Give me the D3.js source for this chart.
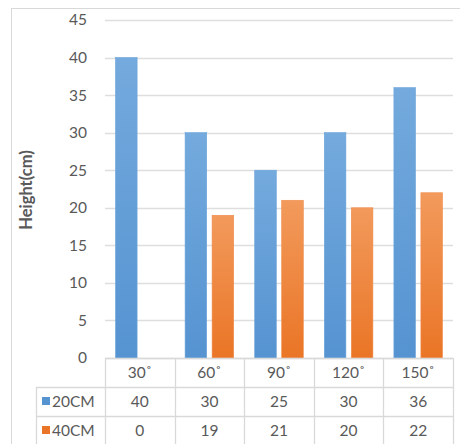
<!DOCTYPE html>
<html>
<head>
<meta charset="utf-8">
<script src="https://cdn.jsdelivr.net/npm/d3@7"></script>
<style>
  html, body { margin: 0; padding: 0; background: #fff; }
  svg { display: block; font-family: Lato, "Liberation Sans", sans-serif; }
</style>
</head>
<body>
<svg id="chart" width="460" height="444"></svg>
<script>
// Angles and heights for the two spacings
const categories = ["30˚", "60˚", "90˚", "120˚", "150˚"];
const seriesNames = ["20CM", "40CM"];
const values20 = [40, 30, 25, 30, 36];
const values40 = [0, 19, 21, 20, 22];
const yTicks = [0, 5, 10, 15, 20, 25, 30, 35, 40, 45];
const yLabel = "Height(cm)";

const seriesValues = [values20, values40];
const colors = [
  { top: "#74aadd", bottom: "#5593d1", edge: "#6aa3da" },
  { top: "#f29a5c", bottom: "#ea7526", edge: "#f08b4a" }
];

const svg = d3.select("#chart");
const textColor = "#595959";
const gridColor = "#dedede";
const fontSize = "15.5px";

const plot = { left: 105, right: 453, top: 20, bottom: 358 };
const rowH = 29;
const legendLeft = 36;

// Outer frame
svg.append("rect")
  .attr("x", 11.5).attr("y", 8.5)
  .attr("width", 460).attr("height", 460)
  .attr("fill", "none").attr("stroke", "#d9d9d9");

// Gradients for bars
const defs = svg.append("defs");
colors.forEach((c, i) => {
  const g = defs.append("linearGradient")
    .attr("id", "grad" + i).attr("x1", 0).attr("y1", 0).attr("x2", 0).attr("y2", 1);
  g.append("stop").attr("offset", "0%").attr("stop-color", c.top);
  g.append("stop").attr("offset", "100%").attr("stop-color", c.bottom);
});

const x0 = d3.scaleBand().domain(categories).range([plot.left, plot.right]).padding(0);
const x1 = d3.scaleBand().domain(seriesNames)
  .range([10.5, x0.bandwidth() - 10.5]).paddingInner(0.2).paddingOuter(0);
const y = d3.scaleLinear().domain([0, 45]).range([plot.bottom, plot.top]);

// Gridlines
svg.append("g").selectAll("line").data(yTicks).join("line")
  .attr("x1", plot.left).attr("x2", plot.right)
  .attr("y1", d => Math.round(y(d)) + 0.5).attr("y2", d => Math.round(y(d)) + 0.5)
  .attr("stroke", gridColor).attr("stroke-width", 1.3);

// Y axis tick labels
const yAxis = d3.axisLeft(y).tickValues(yTicks).tickSize(0).tickPadding(0);
const yg = svg.append("g").attr("transform", `translate(${plot.left - 18},0)`).call(yAxis);
yg.select(".domain").remove();
yg.selectAll("text")
  .attr("fill", textColor).style("font-size", fontSize)
  .style("font-family", "Lato, 'Liberation Sans', sans-serif");

// Y axis title
svg.append("text")
  .attr("transform", `translate(32,190) rotate(-90)`)
  .attr("text-anchor", "middle")
  .attr("fill", textColor).attr("font-weight", "bold").style("font-size", "16.5px")
  .text(yLabel);

// Bars
const groups = svg.append("g").selectAll("g").data(categories).join("g")
  .attr("transform", d => `translate(${x0(d)},0)`);
groups.selectAll("rect")
  .data((d, i) => seriesNames.map((s, k) => ({ s, k, v: seriesValues[k][i] })))
  .join("rect")
  .attr("x", d => x1(d.s))
  .attr("width", x1.bandwidth())
  .attr("y", d => y(d.v))
  .attr("height", d => y(0) - y(d.v))
  .attr("fill", d => `url(#grad${d.k})`)
  .attr("stroke", d => colors[d.k].edge).attr("stroke-width", 0.6);

// Data table
const tbl = svg.append("g");
const tableBottom = plot.bottom + rowH * 3;
const lineStyle = sel => sel.attr("stroke", "#d9d9d9").attr("stroke-width", 1.3);

// Horizontal lines
tbl.append("line").call(lineStyle)
  .attr("x1", plot.left).attr("x2", plot.right).attr("y1", plot.bottom + 0.5).attr("y2", plot.bottom + 0.5);
[1, 2, 3].forEach(r => {
  tbl.append("line").call(lineStyle)
    .attr("x1", legendLeft).attr("x2", plot.right)
    .attr("y1", plot.bottom + rowH * r + 0.5).attr("y2", plot.bottom + rowH * r + 0.5);
});
// Vertical lines
x0.domain().forEach(c => {
  tbl.append("line").call(lineStyle)
    .attr("x1", Math.round(x0(c)) + 0.5).attr("x2", Math.round(x0(c)) + 0.5)
    .attr("y1", plot.bottom).attr("y2", tableBottom);
});
tbl.append("line").call(lineStyle)
  .attr("x1", plot.right + 0.5).attr("x2", plot.right + 0.5)
  .attr("y1", plot.bottom).attr("y2", tableBottom);
tbl.append("line").call(lineStyle)
  .attr("x1", legendLeft + 0.5).attr("x2", legendLeft + 0.5)
  .attr("y1", plot.bottom + rowH).attr("y2", tableBottom);

// Header row with categories
tbl.selectAll("text.cat").data(categories).join("text")
  .attr("class", "cat")
  .attr("x", d => x0(d) + x0.bandwidth() / 2)
  .attr("y", plot.bottom + rowH / 2 + 5.5)
  .attr("text-anchor", "middle").attr("fill", textColor).style("font-size", fontSize)
  .text(d => d);

// Series rows
seriesNames.forEach((s, k) => {
  const cy = plot.bottom + rowH * (k + 1) + rowH / 2;
  tbl.append("rect")
    .attr("x", 42).attr("y", cy - 4.5).attr("width", 8).attr("height", 8)
    .attr("fill", colors[k].bottom);
  tbl.append("text")
    .attr("x", 52).attr("y", cy + 5.5)
    .attr("fill", textColor).style("font-size", fontSize)
    .text(s);
  tbl.selectAll("text.v" + k).data(categories).join("text")
    .attr("class", "v" + k)
    .attr("x", d => x0(d) + x0.bandwidth() / 2)
    .attr("y", cy + 5.5)
    .attr("text-anchor", "middle").attr("fill", textColor).style("font-size", fontSize)
    .text((d, i) => seriesValues[k][i]);
});
</script>
</body>
</html>
